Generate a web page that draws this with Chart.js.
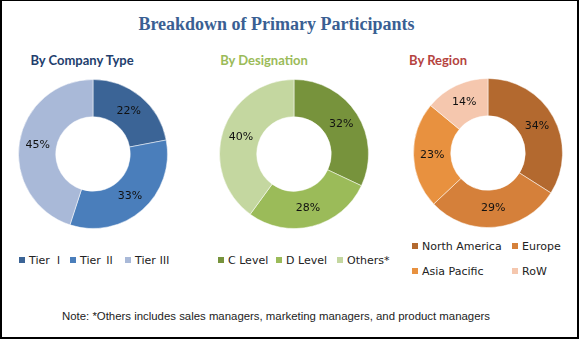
<!DOCTYPE html>
<html>
<head>
<meta charset="utf-8">
<script src="https://cdn.jsdelivr.net/npm/chart.js@4.4.1/dist/chart.umd.min.js"></script>
<style>
  @font-face { font-family: RomanNum; src: local("Noto Sans CJK SC Regular"), local("NotoSansCJKsc-Regular"), local("Noto Sans CJK SC"); unicode-range: U+2160-217F; }
  body { margin: 0; background: #fff; }
  #wrap { position: relative; width: 579px; height: 339px; box-sizing: border-box; border: 2px solid #000; border-top-width: 1px; overflow: hidden; font-family: RomanNum, "DejaVu Sans", sans-serif; }
  .title { position: absolute; left: -30px; width: 609px; top: 13px; text-align: center; font: bold 18px "Liberation Serif", serif; color: #3A5F93; }
  .sub { position: absolute; top: 51px; width: 160px; text-align: center; font: bold 13px Lato, sans-serif; }
  canvas { position: absolute; }
  .leg { position: absolute; font-size: 11px; color: #222; white-space: nowrap; line-height: 12px; }
  .leg i { display: inline-block; width: 6px; height: 6px; margin-right: 4px; vertical-align: 1px; }
  .note { position: absolute; left: 60px; top: 309px; font: 11.4px "Liberation Sans", sans-serif; color: #222; }
</style>
</head>
<body>
<div id="wrap">
  <div class="title">Breakdown of Primary Participants</div>
  <div class="sub" style="left:0px;color:#233E6D">By Company Type</div>
  <div class="sub" style="left:182px;color:#9BBB59">By Designation</div>
  <div class="sub" style="left:356px;color:#B5443F">By Region</div>
  <canvas id="c1" width="150" height="150" style="left:16px;top:78px"></canvas>
  <canvas id="c2" width="150" height="150" style="left:217px;top:78px"></canvas>
  <canvas id="c3" width="150" height="150" style="left:411px;top:77px"></canvas>
  <div class="note">Note: *Others includes sales managers, marketing managers, and product managers</div>
</div>
<script>
// data
const companyLabels = ['Tier Ⅰ', 'Tier Ⅱ', 'Tier Ⅲ'];
const companyValues = [22, 33, 45];
const companyColors = ['#3B6496', '#4A7EBB', '#A9B9D8'];

const designationLabels = ['C Level', 'D Level', 'Others*'];
const designationValues = [32, 28, 40];
const designationColors = ['#77933C', '#9BBB59', '#C4D7A0'];

const regionLabels = ['North America', 'Europe', 'Asia Pacific', 'RoW'];
const regionValues = [34, 29, 23, 14];
const regionColors = ['#B3692F', '#D5803A', '#E8913F', '#F5C7AE'];

// legend item positions (left, top)
const legendPos1 = [[17, 254], [68, 254], [123, 254]];
const legendPos2 = [[216, 254], [274, 254], [335, 254]];
const legendPos3 = [[410, 240], [510, 240], [410, 265], [510, 265]];

// writes the % value in the middle of each slice
const pctLabels = {
  id: 'pctLabels',
  afterDatasetsDraw(chart) {
    const ctx = chart.ctx;
    const meta = chart.getDatasetMeta(0);
    const vals = chart.data.datasets[0].data;
    ctx.save();
    ctx.font = '11px "DejaVu Sans"';
    ctx.fillStyle = '#111';
    ctx.textAlign = 'center';
    ctx.textBaseline = 'middle';
    meta.data.forEach((arc, i) => {
      const p = arc.tooltipPosition();
      ctx.fillText(vals[i] + '%', p.x, p.y);
    });
    ctx.restore();
  }
};

function makeDonut(id, labels, values, colors) {
  new Chart(document.getElementById(id), {
    type: 'doughnut',
    data: {
      labels: labels,
      datasets: [{ data: values, backgroundColor: colors, borderColor: 'rgba(255,255,255,0.5)', borderWidth: 1 }]
    },
    options: {
      responsive: false,
      animation: false,
      cutout: '50%',
      plugins: { legend: { display: false }, tooltip: { enabled: false } }
    },
    plugins: [pctLabels]
  });
}

function makeLegend(labels, colors, pos) {
  const wrap = document.getElementById('wrap');
  labels.forEach((l, i) => {
    const d = document.createElement('div');
    d.className = 'leg';
    d.style.left = pos[i][0] + 'px';
    d.style.top = pos[i][1] + 'px';
    d.innerHTML = `<i style="background:${colors[i]}"></i>${l}`;
    wrap.appendChild(d);
  });
}

makeDonut('c1', companyLabels, companyValues, companyColors);
makeDonut('c2', designationLabels, designationValues, designationColors);
makeDonut('c3', regionLabels, regionValues, regionColors);
makeLegend(companyLabels, companyColors, legendPos1);
makeLegend(designationLabels, designationColors, legendPos2);
makeLegend(regionLabels, regionColors, legendPos3);
</script>
</body>
</html>
